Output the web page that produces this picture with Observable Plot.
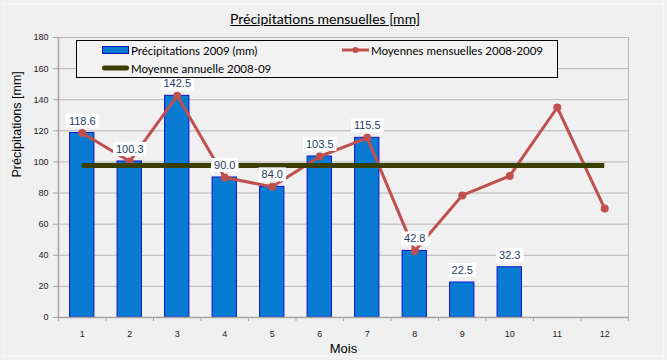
<!DOCTYPE html>
<html>
<head>
<meta charset="utf-8">
<script src="https://cdn.jsdelivr.net/npm/d3@7"></script>
<script src="https://cdn.jsdelivr.net/npm/@observablehq/plot@0.6"></script>
<style>
  html, body { margin: 0; padding: 0; background: #f0f0f0; }
  #wrap { position: relative; width: 667px; height: 360px; background: #f0f0f0; overflow: hidden; }
  #inner { position: absolute; left: 3px; top: 3px; right: 3px; bottom: 3px; border: 1px solid #f8f8f8; }
  #title { position: absolute; left: 0; width: 650px; top: 10px; text-align: center;
           font: 14px Lato, "Open Sans", sans-serif; color: #000; text-decoration: underline; }
  #legend { position: absolute; left: 76px; top: 40px; width: 480px; height: 36px;
            border: 1px solid #000; background: #f2f2f2; font: 11.5px Lato, "Open Sans", sans-serif; color: #000; }
  .item { position: absolute; display: flex; align-items: center; height: 14px; }
  .item span { margin-left: 2px; }
  #chart > svg { position: absolute; left: 0; top: 0; }
</style>
</head>
<body>
<div id="wrap">
  <div id="inner"></div>
  <div id="chart"></div>
  <div id="title">Précipitations mensuelles [mm]</div>
  <div id="legend"></div>
</div>
<script>
const months = [1, 2, 3, 4, 5, 6, 7, 8, 9, 10, 11, 12];
const precip2009 = [118.6, 100.3, 142.5, 90.0, 84.0, 103.5, 115.5, 42.8, 22.5, 32.3, null, null];
const monthlyMeans = [118.6, 100.3, 142.5, 90.0, 84.0, 103.5, 115.5, 42.8, 78.5, 91.0, 135.0, 70.0];
const annualMean = 97.7;
const yTicks = [0, 20, 40, 60, 80, 100, 120, 140, 160, 180];
const monthBounds = [0.5, 1.5, 2.5, 3.5, 4.5, 5.5, 6.5, 7.5, 8.5, 9.5, 10.5, 11.5, 12.5];
const seriesNames = ["Précipitations 2009 (mm)", "Moyennes mensuelles 2008-2009", "Moyenne annuelle 2008-09"];
const colors = { bar: "#0a7bd2", barStroke: "#1010c8", avg: "#c0504d", mean: "#3a3f00" };

const rows = months.map((m, i) => ({ m, p: precip2009[i], avg: monthlyMeans[i] }));
const bars = rows.filter(d => d.p != null);
const halfBar = 0.256;

const plot = Plot.plot({
  width: 667, height: 360,
  marginLeft: 58, marginRight: 39, marginTop: 37, marginBottom: 43,
  style: { background: "transparent", fontFamily: "'Liberation Sans', Arial, sans-serif", overflow: "visible" },
  x: { type: "linear", domain: [0.5, 12.5], axis: null, label: null },
  y: { domain: [0, 180], axis: null, label: null },
  marks: [
    Plot.ruleY(yTicks.filter(t => t > 0), { stroke: "#b4b4b4", strokeWidth: 1 }),
    Plot.ruleX([12.5], { stroke: "#b4b4b4", strokeWidth: 1 }),
    Plot.rectY(bars, { x1: d => d.m - halfBar, x2: d => d.m + halfBar, y1: 0, y2: "p",
                       fill: colors.bar, stroke: colors.barStroke, strokeWidth: 1 }),
    Plot.ruleX([0.5], { stroke: "#a6a6a6", strokeWidth: 1.5 }),
    Plot.ruleY([0], { stroke: "#a6a6a6", strokeWidth: 1.5 }),
    Plot.axisY({ ticks: yTicks, tickSize: 5, tickPadding: 5, stroke: "#a6a6a6", fill: "#222", fontSize: 9, label: null, tickFormat: d => String(d) }),
    Plot.axisX({ ticks: monthBounds, tickSize: 4, stroke: "#a6a6a6", label: null, tickFormat: () => "" }),
    Plot.axisX({ ticks: months, tickSize: 0, tickPadding: 13, fill: "#222", fontSize: 9, label: null, tickFormat: d => String(d) }),
    Plot.lineY(rows, { x: "m", y: "avg", stroke: colors.avg, strokeWidth: 3 }),
    Plot.dot(rows, { x: "m", y: "avg", r: 4, fill: colors.avg }),
    Plot.ruleY([annualMean], { x1: 1, x2: 12, stroke: colors.mean, strokeWidth: 5 }),
    Plot.text(bars, { x: "m", y: "p", text: d => d.p.toFixed(1), dy: -12, lineAnchor: "middle",
                      fill: "#1f3b64", fontSize: 11 }),
    Plot.text(["Mois"], { frameAnchor: "bottom", dy: 31, lineAnchor: "middle", fontSize: 13, fill: "#000" }),
    Plot.text(["Précipitations [mm]"], { frameAnchor: "left", dx: -42, rotate: -90, lineAnchor: "middle", fontSize: 12.5, fill: "#000" })
  ]
});
document.getElementById("chart").appendChild(plot);

// white boxes behind the bar value labels
const labelSet = new Set(bars.map(d => d.p.toFixed(1)));
d3.select(plot).selectAll("text").filter(function () { return labelSet.has(this.textContent.trim()); }).each(function () {
  const b = this.getBBox();
  const tr = this.getAttribute("transform");
  const r = document.createElementNS("http://www.w3.org/2000/svg", "rect");
  r.setAttribute("x", b.x - 3); r.setAttribute("y", b.y - 1);
  r.setAttribute("width", b.width + 6); r.setAttribute("height", b.height + 2);
  r.setAttribute("fill", "#ffffff");
  if (tr) r.setAttribute("transform", tr);
  this.parentNode.insertBefore(r, this);
});

// legend
const legend = document.getElementById("legend");
function addItem(left, top, swatch, label) {
  const it = document.createElement("div");
  it.className = "item";
  it.style.left = left + "px"; it.style.top = top + "px";
  it.innerHTML = swatch + "<span>" + label + "</span>";
  legend.appendChild(it);
}
addItem(25, 2, `<svg width="27" height="10"><rect x="0.5" y="1.5" width="26" height="7" fill="${colors.bar}" stroke="${colors.barStroke}"/></svg>`, seriesNames[0]);
addItem(265, 2, `<svg width="27" height="10"><line x1="0" x2="27" y1="5" y2="5" stroke="${colors.avg}" stroke-width="3"/><circle cx="13.5" cy="5" r="3" fill="${colors.avg}"/></svg>`, seriesNames[1]);
addItem(25, 20, `<svg width="27" height="10"><line x1="2.5" x2="24.5" y1="5" y2="5" stroke="${colors.mean}" stroke-width="5" stroke-linecap="round"/></svg>`, seriesNames[2]);
</script>
</body>
</html>
